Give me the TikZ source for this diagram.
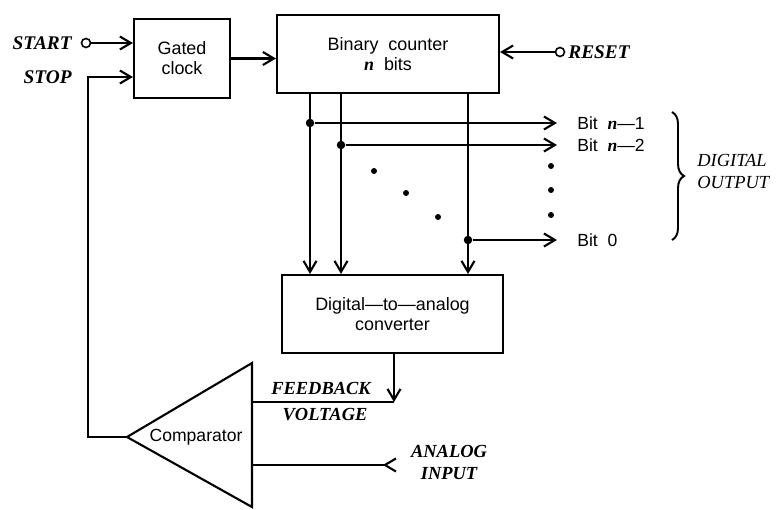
\documentclass[tikz,border=0pt]{standalone}
\usepackage{fontspec}
\setmainfont{Liberation Sans}
\newfontfamily\capfont{Liberation Serif}
\usetikzlibrary{positioning,calc}
\usetikzlibrary{arrows.meta,decorations.pathreplacing}
\newcommand{\nvar}{{\capfont\bfseries\itshape n}}
\tikzset{
	blk/.style={draw=black,line width=1.2pt,inner sep=0pt,align=center,
		font=\fontsize{10.2}{11.4}\selectfont},
	wire/.style={draw=black,line width=1.2pt},
	sig/.style={wire,-{Straight Barb[length=2.2mm,width=2.6mm]}},
	tag/.style={font=\capfont\bfseries\itshape\fontsize{11}{12}\selectfont,inner sep=0pt},
	itag/.style={font=\capfont\bfseries\itshape\fontsize{10.5}{12.5}\selectfont,inner sep=0pt,align=center},
	bit/.style={anchor=west,inner xsep=0.4cm,inner ysep=0pt,font=\fontsize{10}{11}\selectfont},
	jdot/.style={circle,fill=black,inner sep=0pt,minimum size=0.17cm},
	sdot/.style={circle,fill=black,inner sep=0pt,minimum size=0.12cm},
	term/.style={circle,draw=black,line width=0.9pt,fill=white,inner sep=0pt,minimum size=0.18cm},
}
\begin{document}
\begin{tikzpicture}
	\useasboundingbox (0,0) rectangle (15.6,10.18);
	% blocks
	\node[blk,minimum width=1.92cm,minimum height=1.58cm] (gated) at (3.64,9.01) {Gated\\clock};
	\node[blk,minimum width=4.44cm,minimum height=1.56cm] (counter) at (7.76,9.10) {Binary\ \ counter\\\nvar\ \ bits};
	\node[blk,minimum width=4.42cm,minimum height=1.56cm] (dac) at (7.85,3.90) {Digital---to---analog\\converter};
	% comparator
	\coordinate (cmpA) at (2.54,1.44);
	\coordinate (cmpT) at (5.04,2.92);
	\coordinate (cmpB) at (5.04,0.04);
	\draw[wire,line join=miter] (cmpA) -- (cmpT) -- (cmpB) -- cycle;
	\node[font=\fontsize{10}{11}\selectfont] (cmp) at (3.92,1.44) {Comparator};
	% start, stop, reset
	\node[term] (startT) at (1.72,9.32) {};
	\node[tag,anchor=east] (start) at (1.44,9.32) {START};
	\node[tag,anchor=east] (stop) at (1.44,8.64) {STOP};
	\node[term] (resetT) at (11.2,9.14) {};
	\node[tag,anchor=west] (reset) at (11.36,9.14) {RESET};
	\draw[sig] (startT) -- (startT -| gated.west);
	\draw[sig] (gated.east) -- (gated.east -| counter.west);
	\draw[sig] (resetT) -- (resetT -| counter.east);
	\coordinate (loop) at (1.76,8.64);
	\draw[sig] (cmpA) -| (loop) -- (loop -| gated.west);
	% bit lines
	\node[jdot] (d1) at (6.20,7.72) {};
	\node[jdot] (d2) at (6.82,7.28) {};
	\node[jdot] (d3) at (9.36,5.38) {};
	\foreach \d in {d1,d2,d3}
		\draw[sig] (counter.south -| \d) -- (dac.north -| \d);
	\node[bit] (bitA) at (11.14,7.72) {Bit\ \ \nvar---1};
	\node[bit] (bitB) at (11.14,7.28) {Bit\ \ \nvar---2};
	\node[bit] (bitZ) at (11.14,5.38) {Bit\ \ 0};
	\draw[sig] (d1) -- (bitA.west);
	\draw[sig] (d2) -- (bitB.west);
	\draw[sig] (d3) -- (bitZ.west);
	\foreach \p in {(7.48,6.76),(8.12,6.32),(8.76,5.84),(11.02,6.86),(11.02,6.38),(11.02,5.88)}
		\node[sdot] at \p {};
	% digital output
	\draw[line width=1.1pt,decorate,decoration={brace,amplitude=0.24cm}]
		(13.44,7.94) -- (13.44,5.38);
	\node[itag,anchor=west,align=left,font=\capfont\itshape\fontsize{10.5}{12.5}\selectfont] (digout) at (13.94,6.76) {DIGITAL\\OUTPUT};
	% feedback and analog input
	\coordinate (fbk) at (7.88,2.14);
	\draw[sig] (dac.south -| fbk) -- (fbk);
	\draw[wire] (fbk) -- (fbk -| cmpT);
	\node[itag] (fbtxt) at (6.42,2.42) {FEEDBACK};
	\node[itag] (vtxt) at (6.50,1.88) {VOLTAGE};
	\coordinate (ain) at (7.94,0.88);
	\draw[wire,{Straight Barb[reversed,length=2.2mm,width=2.6mm]}-] (ain) -- (ain -| cmpT);
	\node[itag] (aintxt) at (8.98,0.94) {ANALOG\\INPUT};
\end{tikzpicture}
\end{document}
